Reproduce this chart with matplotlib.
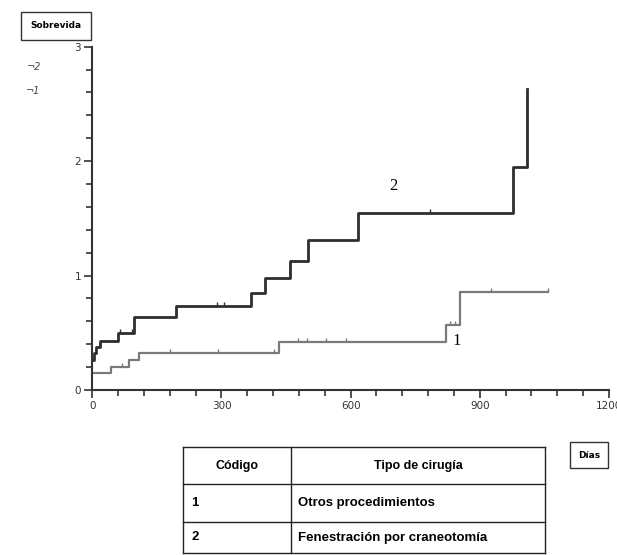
import numpy as np
import matplotlib
matplotlib.use("Agg")
import matplotlib.pyplot as plt
from matplotlib.ticker import MultipleLocator

# curva 2 - fenestración por craneotomía
t2 = [0, 3, 8, 18, 60, 97, 195, 369, 401, 458, 500, 618, 977, 1010]
h2 = [0.265, 0.32, 0.38, 0.43, 0.50, 0.64, 0.73, 0.845, 0.975, 1.13, 1.315, 1.546, 1.946, 2.63]
cens2 = [64, 93, 289, 306, 785]

# curva 1 - otros procedimientos
t1 = [0, 44, 86, 108, 434, 822, 855, 1059]
h1 = [0.148, 0.205, 0.265, 0.32, 0.42, 0.565, 0.855, 0.855]
cens1 = [68, 181, 293, 421, 477, 499, 543, 589, 830, 843, 927, 1059]

codigos = ["1", "2"]
tipos = ["Otros procedimientos", "Fenestración por craneotomía"]


def value_at(t, h, c):
    idx = np.searchsorted(t, c, side="right") - 1
    return np.array(h)[idx]


fig = plt.figure(figsize=(6.17, 5.55), dpi=100)
ax = fig.add_axes([0.1496, 0.2973, 0.8374, 0.6186])

ax.step(t1, h1, where="post", color="#7a7a7a", lw=1.6)
ax.step(t2, h2, where="post", color="#2e2e2e", lw=2.0)
ax.plot(cens1, value_at(t1, h1, cens1), ls="none", marker=2, ms=3,
        mew=1.0, color="#7a7a7a")
ax.plot(cens2, value_at(t2, h2, cens2), ls="none", marker=2, ms=3,
        mew=1.0, color="#2e2e2e")

ax.text(699, 1.78, "2", fontsize=12, family="Liberation Serif", ha="center", va="center")
ax.text(846, 0.43, "1", fontsize=12, family="Liberation Serif", ha="center", va="center")

ax.set_xlim(0, 1200)
ax.set_ylim(0, 3)
ax.xaxis.set_major_locator(MultipleLocator(300))
ax.xaxis.set_minor_locator(MultipleLocator(60))
ax.yaxis.set_major_locator(MultipleLocator(1))
ax.yaxis.set_minor_locator(MultipleLocator(0.2))
ax.tick_params(which="major", direction="out", length=6, width=1.2, color="#333333",
               labelsize=7.5, labelcolor="#333333", pad=2)
ax.tick_params(which="minor", direction="out", length=4, width=1.2, color="#333333")
for s in ["top", "right"]:
    ax.spines[s].set_visible(False)
for s in ["left", "bottom"]:
    ax.spines[s].set_linewidth(1.5)
    ax.spines[s].set_color("#333333")
ax.set_facecolor("none")

box = dict(boxstyle="square,pad=0.9", fc="white", ec="#333333", lw=1.0)
fig.text(56 / 617, 1 - 26 / 555, "Sobrevida", fontsize=6.5, fontweight="bold",
         family="Liberation Sans Narrow", ha="center", va="center",
         bbox=dict(boxstyle="square,pad=1.0", fc="white", ec="#333333", lw=1.0))
fig.text(589 / 617, 1 - 455 / 555, "Días", fontsize=6.5, fontweight="bold",
         family="Liberation Sans Narrow", ha="center", va="center", bbox=box)
fig.text(34 / 617, 1 - 67 / 555, "¬2", fontsize=7, style="italic", color="#444444",
         ha="center", va="center")
fig.text(33 / 617, 1 - 91 / 555, "¬1", fontsize=7, style="italic", color="#444444",
         ha="center", va="center")

# tabla de códigos
tab = fig.add_axes([0, 0, 1, 1], zorder=-1)
tab.set_xlim(0, 617)
tab.set_ylim(555, 0)
tab.axis("off")
x0, xm, x1 = 183, 291, 545
rows = [447, 484, 522, 553]
for y in rows:
    tab.plot([x0, x1], [y, y], color="#222222", lw=1.0)
for x in [x0, xm, x1]:
    tab.plot([x, x], [rows[0], rows[-1]], color="#222222", lw=1.0)
tab.text((x0 + xm) / 2, (rows[0] + rows[1]) / 2, "Código", fontsize=9,
         fontweight="bold", family="Liberation Sans", ha="center", va="center")
tab.text((xm + x1) / 2, (rows[0] + rows[1]) / 2, "Tipo de cirugía", fontsize=9,
         fontweight="bold", family="Liberation Sans", ha="center", va="center")
for i in range(len(codigos)):
    yc = (rows[i + 1] + rows[i + 2]) / 2
    tab.text(x0 + 8, yc, codigos[i], fontsize=9.5, fontweight="bold",
             family="Liberation Sans", ha="left", va="center")
    tab.text(xm + 7, yc, tipos[i], fontsize=9.5, fontweight="bold",
             family="Liberation Sans", ha="left", va="center")

fig.savefig("out.png", dpi=100)
